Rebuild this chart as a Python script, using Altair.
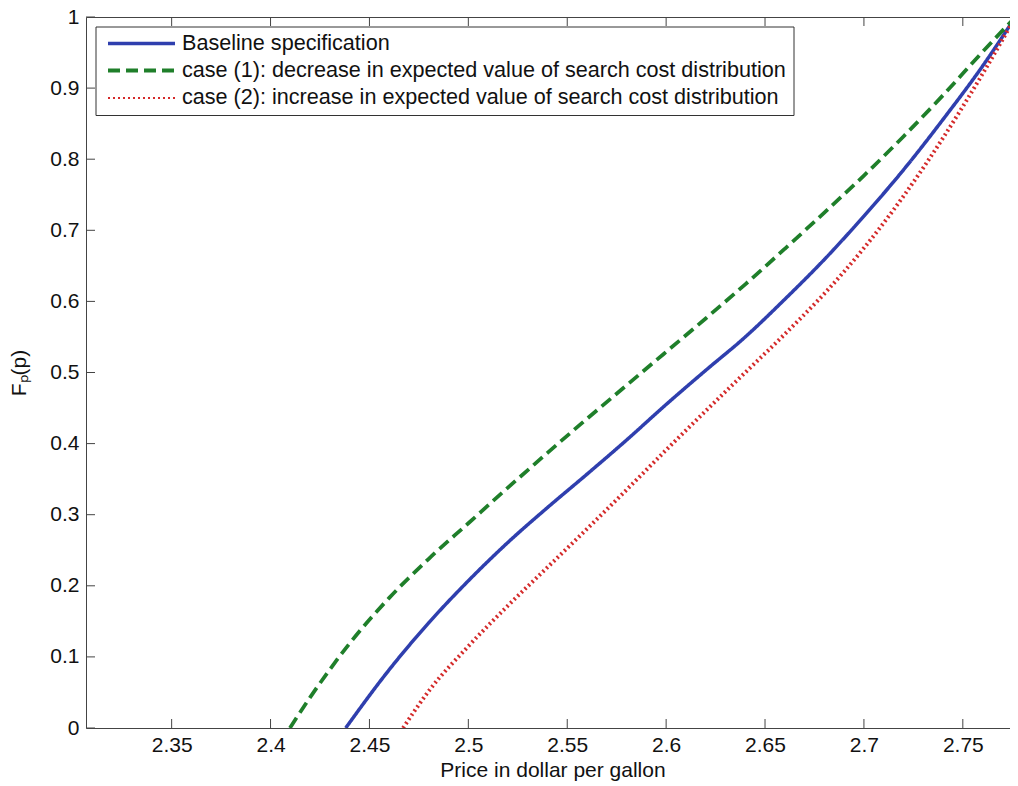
import altair as alt
import pandas as pd

series_names = [
    "Baseline specification",
    "case (1): decrease in expected value of search cost distribution",
    "case (2): increase in expected value of search cost distribution",
]
series_colors = ["#2f3fae", "#1f7f2a", "#d42a2a"]
series_dash = [[1, 0], [12, 6], [2, 3]]
series_width = [3.5, 4, 2]

base_x = [2.438, 2.46, 2.48, 2.50, 2.52, 2.54, 2.56, 2.58, 2.60, 2.62, 2.64,
          2.66, 2.68, 2.70, 2.72, 2.74, 2.76, 2.7766]
base_y = [0.000, 0.082, 0.148, 0.207, 0.261, 0.310, 0.357, 0.405, 0.455, 0.503, 0.550,
          0.603, 0.659, 0.720, 0.785, 0.856, 0.931, 1.000]

case1_x = [2.4098, 2.42, 2.44, 2.46, 2.48, 2.50, 2.52, 2.54, 2.56, 2.58, 2.60,
           2.62, 2.64, 2.66, 2.68, 2.70, 2.72, 2.74, 2.76, 2.7766]
case1_y = [0.000, 0.043, 0.119, 0.183, 0.238, 0.288, 0.338, 0.387, 0.435, 0.482, 0.529,
           0.576, 0.624, 0.674, 0.725, 0.777, 0.832, 0.890, 0.951, 1.000]

case2_x = [2.467, 2.48, 2.50, 2.52, 2.54, 2.56, 2.58, 2.60, 2.62, 2.64, 2.66,
           2.68, 2.70, 2.72, 2.74, 2.76, 2.7766]
case2_y = [0.000, 0.052, 0.115, 0.172, 0.226, 0.280, 0.335, 0.391, 0.446, 0.500, 0.554,
           0.611, 0.675, 0.748, 0.830, 0.920, 1.000]

x_ticks = [2.35, 2.4, 2.45, 2.5, 2.55, 2.6, 2.65, 2.7, 2.75]
y_ticks = [0, 0.1, 0.2, 0.3, 0.4, 0.5, 0.6, 0.7, 0.8, 0.9, 1]
x_domain = [2.3067, 2.7784]
y_domain = [0, 1]
x_title = "Price in dollar per gallon"
y_title = "Fₚ(p)"

rows = []
for name, xs, ys in zip(series_names, [base_x, case1_x, case2_x], [base_y, case1_y, case2_y]):
    for i, (xv, yv) in enumerate(zip(xs, ys)):
        rows.append({"series": name, "price": xv, "F": yv, "order": i})
df = pd.DataFrame(rows)

W, H = 933, 711
FONT = "Liberation Sans"
TICK = 9
AXC = "#444444"
TXT = "#111111"

xscale = alt.Scale(domain=x_domain, nice=False, zero=False)
yscale = alt.Scale(domain=y_domain, nice=False, zero=False)

x_axis = alt.Axis(
    values=x_ticks, format="~g", title=x_title,
    ticks=False, tickSize=0, domain=False, grid=False,
    labelFont=FONT, labelFontSize=21, labelColor=TXT, labelPadding=6,
    titleFont=FONT, titleFontSize=21, titleFontWeight="normal",
    titleColor=TXT, titlePadding=4, labelFlush=False)
y_axis = alt.Axis(
    values=y_ticks, format="~g", title=y_title,
    ticks=False, tickSize=0, domain=False, grid=False,
    labelFont=FONT, labelFontSize=21, labelColor=TXT, labelPadding=7,
    titleFont=FONT, titleFontSize=21, titleFontWeight="normal",
    titleColor=TXT, titlePadding=20, labelFlush=False)

color_scale = alt.Scale(domain=series_names, range=series_colors)
dash_scale = alt.Scale(domain=series_names, range=series_dash)
width_scale = alt.Scale(domain=series_names, range=series_width)

lines = alt.Chart(df).mark_line(clip=True, interpolate="monotone").encode(
    x=alt.X("price:Q", scale=xscale, axis=x_axis),
    y=alt.Y("F:Q", scale=yscale, axis=y_axis),
    color=alt.Color("series:N", scale=color_scale, legend=None),
    strokeDash=alt.StrokeDash("series:N", scale=dash_scale, legend=None),
    strokeWidth=alt.StrokeWidth("series:N", scale=width_scale, legend=None),
    order="order:Q",
)

xt = pd.DataFrame({"price": x_ticks})
yt = pd.DataFrame({"F": y_ticks})

bottom_ticks = alt.Chart(xt).mark_rule(color=AXC, strokeWidth=1).encode(
    x=alt.X("price:Q", scale=xscale, axis=x_axis), y=alt.value(H), y2=alt.value(H - TICK))
top_ticks = alt.Chart(xt).mark_rule(color=AXC, strokeWidth=1).encode(
    x=alt.X("price:Q", scale=xscale, axis=x_axis), y=alt.value(0), y2=alt.value(TICK))
left_ticks = alt.Chart(yt).mark_rule(color=AXC, strokeWidth=1).encode(
    y=alt.Y("F:Q", scale=yscale, axis=y_axis), x=alt.value(0), x2=alt.value(TICK))
right_ticks = alt.Chart(yt).mark_rule(color=AXC, strokeWidth=1).encode(
    y=alt.Y("F:Q", scale=yscale, axis=y_axis), x=alt.value(W - TICK), x2=alt.value(W))

# manual legend (MATLAB-style box in the upper-left corner)
LX0, LX1, LY0, LY1 = 10, 708, 10, 98.5
SYM0, SYM1, TXT_X = 22, 89, 96
ROW_Y = [26.5, 53.5, 81]

legend_layers = [
    alt.Chart(pd.DataFrame({"box": [0]})).mark_rect(
        fill="white", stroke="#333333", strokeWidth=1).encode(
        x=alt.value(LX0), x2=alt.value(LX1), y=alt.value(LY0), y2=alt.value(LY1))
]
for name, col, dash, sw, ry in zip(series_names, series_colors, series_dash, series_width, ROW_Y):
    ld = pd.DataFrame({"label": [name]})
    legend_layers.append(
        alt.Chart(ld).mark_rule(color=col, strokeDash=dash, strokeWidth=sw).encode(
            x=alt.value(SYM0), x2=alt.value(SYM1), y=alt.value(ry)))
    legend_layers.append(
        alt.Chart(ld).mark_text(align="left", baseline="middle", font=FONT,
                                fontSize=21.6, color=TXT).encode(
            text="label:N", x=alt.value(TXT_X), y=alt.value(ry)))

chart = alt.layer(lines, bottom_ticks, top_ticks, left_ticks, right_ticks,
                  *legend_layers).properties(
    width=W, height=H,
    padding={"left": 78, "top": 9, "right": -9, "bottom": 57},
    autosize=alt.AutoSizeParams(type="none"),
    background="white",
).configure_view(stroke=AXC, strokeWidth=1)

chart.save("out.html", embed_options={"renderer": "svg", "actions": False})
